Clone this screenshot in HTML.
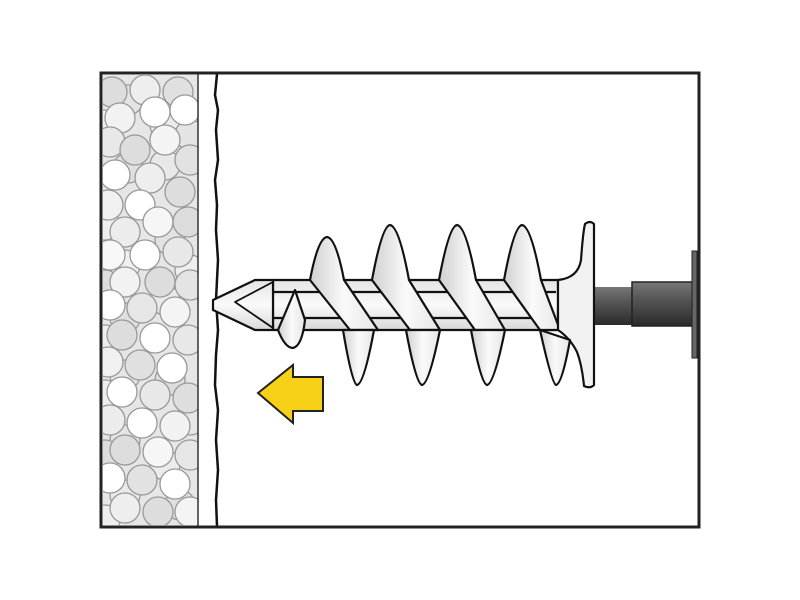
<!DOCTYPE html>
<html><head><style>html,body{margin:0;padding:0;background:#fff}svg{display:block}</style></head>
<body>
<svg width="800" height="600" viewBox="0 0 800 600" xmlns="http://www.w3.org/2000/svg">
<defs>
<clipPath id="ins"><rect x="103" y="75" width="95" height="450"/></clipPath>
<linearGradient id="body" x1="0" y1="0" x2="0" y2="1">
<stop offset="0" stop-color="#e4e4e4"/><stop offset="0.5" stop-color="#fafafa"/><stop offset="1" stop-color="#d8d8d8"/></linearGradient>
<linearGradient id="thr" x1="0" y1="0" x2="1" y2="0">
<stop offset="0" stop-color="#d0d0d0"/><stop offset="0.5" stop-color="#fafafa"/><stop offset="1" stop-color="#e6e6e6"/></linearGradient>
<linearGradient id="shaft" x1="0" y1="0" x2="0" y2="1">
<stop offset="0" stop-color="#777"/><stop offset="0.4" stop-color="#555"/><stop offset="1" stop-color="#2a2a2a"/></linearGradient>
</defs>
<rect x="0" y="0" width="800" height="600" fill="#fff"/>
<g clip-path="url(#ins)" stroke="#999" stroke-width="1.3">
<rect x="103" y="75" width="95" height="450" fill="#e6e6e6" stroke="none"/>
<g>
<circle cx="128" cy="100" r="15" fill="#e4e4e4"/><circle cx="165" cy="125" r="15" fill="#ececec"/><circle cx="105" cy="125" r="15" fill="#eee"/>
<circle cx="128" cy="168" r="15" fill="#e0e0e0"/><circle cx="165" cy="165" r="15" fill="#e8e8e8"/><circle cx="105" cy="225" r="15" fill="#eee"/>
<circle cx="170" cy="240" r="15" fill="#e2e2e2"/><circle cx="125" cy="265" r="15" fill="#f0f0f0"/><circle cx="105" cy="285" r="15" fill="#ddd"/>
<circle cx="165" cy="300" r="15" fill="#eaeaea"/><circle cx="125" cy="318" r="15" fill="#e0e0e0"/><circle cx="105" cy="340" r="15" fill="#eee"/>
<circle cx="125" cy="375" r="15" fill="#e6e6e6"/><circle cx="170" cy="380" r="15" fill="#ddd"/><circle cx="105" cy="395" r="15" fill="#eee"/>
<circle cx="125" cy="440" r="15" fill="#e4e4e4"/><circle cx="165" cy="465" r="15" fill="#ececec"/><circle cx="105" cy="455" r="15" fill="#ddd"/>
<circle cx="125" cy="495" r="15" fill="#eaeaea"/><circle cx="180" cy="505" r="15" fill="#e0e0e0"/><circle cx="105" cy="520" r="15" fill="#eee"/>
<circle cx="190" cy="135" r="15" fill="#e4e4e4"/><circle cx="190" cy="270" r="15" fill="#eee"/><circle cx="190" cy="420" r="15" fill="#e6e6e6"/>
</g>
<g>
<circle cx="112" cy="92" r="15" fill="#ddd"/><circle cx="145" cy="90" r="15" fill="#eee"/><circle cx="178" cy="92" r="15" fill="#e0e0e0"/>
<circle cx="120" cy="118" r="15" fill="#f2f2f2"/><circle cx="155" cy="112" r="15" fill="#fff"/><circle cx="185" cy="110" r="15" fill="#fff"/>
<circle cx="110" cy="142" r="15" fill="#e8e8e8"/><circle cx="135" cy="150" r="15" fill="#ddd"/><circle cx="165" cy="140" r="15" fill="#f4f4f4"/>
<circle cx="190" cy="160" r="15" fill="#e2e2e2"/><circle cx="115" cy="175" r="15" fill="#fff"/><circle cx="150" cy="178" r="15" fill="#eee"/>
<circle cx="180" cy="192" r="15" fill="#ddd"/><circle cx="108" cy="205" r="15" fill="#f0f0f0"/><circle cx="140" cy="205" r="15" fill="#fff"/>
<circle cx="125" cy="232" r="15" fill="#ececec"/><circle cx="158" cy="222" r="15" fill="#f6f6f6"/><circle cx="188" cy="222" r="15" fill="#dcdcdc"/>
<circle cx="110" cy="255" r="15" fill="#f8f8f8"/><circle cx="145" cy="255" r="15" fill="#fff"/><circle cx="178" cy="252" r="15" fill="#e8e8e8"/>
<circle cx="125" cy="282" r="15" fill="#f2f2f2"/><circle cx="160" cy="282" r="15" fill="#ddd"/><circle cx="190" cy="285" r="15" fill="#e4e4e4"/>
<circle cx="110" cy="305" r="15" fill="#fff"/><circle cx="142" cy="308" r="15" fill="#e6e6e6"/><circle cx="175" cy="312" r="15" fill="#f4f4f4"/>
<circle cx="122" cy="335" r="15" fill="#ddd"/><circle cx="155" cy="338" r="15" fill="#fff"/><circle cx="188" cy="340" r="15" fill="#e8e8e8"/>
<circle cx="108" cy="362" r="15" fill="#f0f0f0"/><circle cx="140" cy="365" r="15" fill="#e0e0e0"/><circle cx="172" cy="368" r="15" fill="#fff"/>
<circle cx="122" cy="392" r="15" fill="#fff"/><circle cx="155" cy="395" r="15" fill="#e8e8e8"/><circle cx="188" cy="398" r="15" fill="#dedede"/>
<circle cx="110" cy="420" r="15" fill="#ececec"/><circle cx="142" cy="423" r="15" fill="#fff"/><circle cx="175" cy="426" r="15" fill="#f2f2f2"/>
<circle cx="125" cy="450" r="15" fill="#ddd"/><circle cx="158" cy="452" r="15" fill="#f6f6f6"/><circle cx="190" cy="455" r="15" fill="#e6e6e6"/>
<circle cx="110" cy="478" r="15" fill="#fff"/><circle cx="142" cy="480" r="15" fill="#e2e2e2"/><circle cx="175" cy="484" r="15" fill="#fff"/>
<circle cx="125" cy="508" r="15" fill="#eee"/><circle cx="158" cy="512" r="15" fill="#ddd"/><circle cx="190" cy="512" r="15" fill="#f4f4f4"/>
</g>
</g>
<line x1="198" y1="74" x2="198" y2="526" stroke="#333" stroke-width="1.5"/>
<path d="M217 74 L215 95 L218 110 L216 130 L218 160 L215 180 L217 205 L216 230 L218 260 L216 300 L218 330 L216 355 L215 385 L218 410 L216 440 L218 470 L216 500 L217 526" fill="none" stroke="#111" stroke-width="2.5"/>
<rect x="101" y="73" width="598" height="454" fill="none" stroke="#222" stroke-width="3"/>
<rect x="594" y="287" width="40" height="38" fill="url(#shaft)"/>
<rect x="632" y="282" width="61" height="44" fill="url(#shaft)" stroke="#222" stroke-width="1.5"/>
<rect x="692" y="251" width="5" height="107" fill="#666" stroke="#222" stroke-width="1"/>
<g stroke="#111" stroke-width="2.2" stroke-linejoin="round">
<rect x="273" y="280" width="285" height="50" fill="url(#body)"/>
<line x1="273" y1="292" x2="556" y2="292"/><line x1="273" y1="318" x2="556" y2="318"/>
<path d="M310 280 Q318 238 327 237 Q336 238 344 280 L378 330 L350 330 Z" fill="url(#thr)"/>
<path d="M343 330 Q352 384 357 385 Q364 384 374 330 Z" fill="url(#thr)"/>
<path d="M372 280 Q382 226 390 225 Q399 226 409 280 L440 330 L410 330 Z" fill="url(#thr)"/>
<path d="M406 330 Q416 384 422 385 Q429 384 440 330 Z" fill="url(#thr)"/>
<path d="M439 280 Q449 226 457 225 Q466 226 476 280 L505 330 L475 330 Z" fill="url(#thr)"/>
<path d="M471 330 Q481 384 487 385 Q494 384 505 330 Z" fill="url(#thr)"/>
<path d="M504 280 Q514 226 522 225 Q531 226 541 280 L560 330 L540 330 Z" fill="url(#thr)"/>
<path d="M278 330 Q285 348 293 348 Q302 346 305 320 L295 290 Z" fill="url(#thr)"/>
<path d="M273 280 L255 280 L213 300 L213 310 L255 330 L273 330 Z" fill="url(#body)"/>
<path d="M273 282 L235 302 L273 328" fill="none" stroke-width="1.8"/>
<path d="M558 280 Q578 278 581 260 Q583 232 585 224 Q590 220 594 224 L594 385 Q590 389 584 386 Q582 365 577 352 Q570 338 558 330 Z" fill="#f2f2f2"/>
<path d="M540 330 Q552 384 556 385 Q562 384 570 340 Z" fill="url(#thr)"/>
</g>
<path d="M258 393 L293 365 L293 377 L323 377 L323 411 L293 411 L293 423 Z" fill="#f7d117" stroke="#222" stroke-width="2" stroke-linejoin="miter"/>
</svg>
</body></html>
